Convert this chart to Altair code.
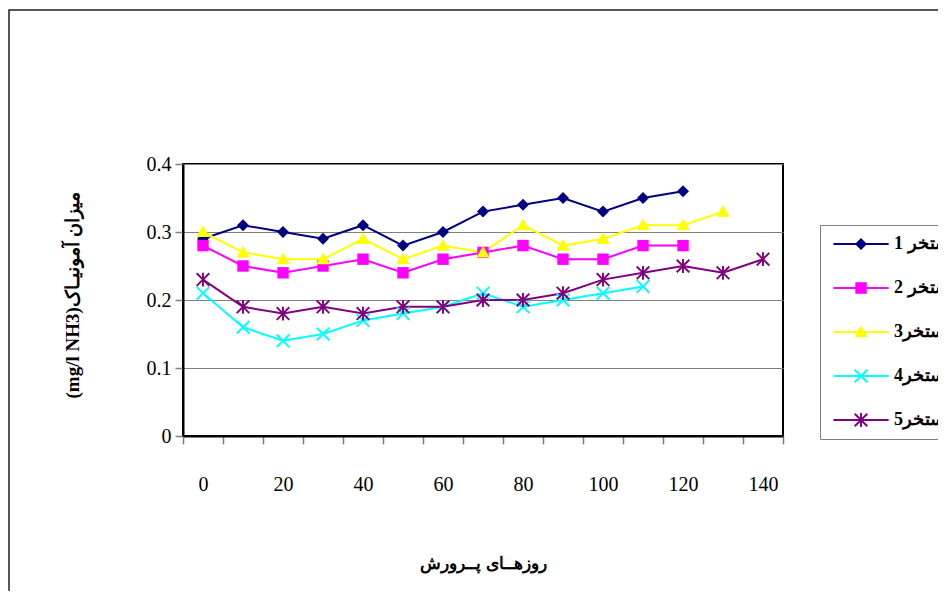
import altair as alt
import pandas as pd

# ---------------- data ----------------
days = [0, 10, 20, 30, 40, 50, 60, 70, 80, 90, 100, 110, 120, 130, 140]
series_names = ["استخر 1", "استخر 2", "استخر3", "استخر4", "استخر5"]
series_colors = ["#000080", "#FF00FF", "#FFFF00", "#00FFFF", "#800080"]

pool1 = [0.29, 0.31, 0.30, 0.29, 0.31, 0.28, 0.30, 0.33, 0.34, 0.35, 0.33, 0.35, 0.36]
pool2 = [0.28, 0.25, 0.24, 0.25, 0.26, 0.24, 0.26, 0.27, 0.28, 0.26, 0.26, 0.28, 0.28]
pool3 = [0.30, 0.27, 0.26, 0.26, 0.29, 0.26, 0.28, 0.27, 0.31, 0.28, 0.29, 0.31, 0.31, 0.33]
pool4 = [0.21, 0.16, 0.14, 0.15, 0.17, 0.18, 0.19, 0.21, 0.19, 0.20, 0.21, 0.22]
pool5 = [0.23, 0.19, 0.18, 0.19, 0.18, 0.19, 0.19, 0.20, 0.20, 0.21, 0.23, 0.24, 0.25, 0.24, 0.26]

y_ticks = [0, 0.1, 0.2, 0.3, 0.4]
x_title = "روزهــای پــرورش"
y_title = "(mg/l NH3)میزان آمونیـاک"

rows = []
for name, vals in zip(series_names, [pool1, pool2, pool3, pool4, pool5]):
    for d, v in zip(days, vals):
        rows.append({"day": d, "value": v, "series": name})
df = pd.DataFrame(rows)

# ---------------- marker shapes (filled paths) ----------------
diamond = "M0,-1L1,0L0,1L-1,0Z"
square = "M-0.95,-0.95H0.95V0.95H-0.95Z"
triangle = "M0,-1.1L1.1,0.85H-1.1Z"
xshape = ("M-0.937,-1.163L1.163,0.937L0.937,1.163L-1.163,-0.937Z"
          "M-1.163,0.937L0.937,-1.163L1.163,-0.937L-0.937,1.163Z")
asterisk = xshape + "M-0.16,-1.15H0.16V1.15H-0.16Z"
plot_shapes = [diamond, square, triangle, xshape, asterisk]
legend_line = "M-4.6,-0.16H4.6V0.16H-4.6Z"
legend_shapes = [legend_line + s for s in plot_shapes]

SERIF = "Liberation Serif, DejaVu Serif, serif"

x_enc = alt.X(
    "day:O",
    scale=alt.Scale(type="band", domain=days, paddingInner=0, paddingOuter=0),
    bandPosition=0.5,
    axis=alt.Axis(
        title=x_title,
        tickBand="extent",
        labelExpr="datum.value % 20 == 0 ? datum.label : ''",
        labelAngle=0,
        tickSize=8,
        tickColor="#808080",
        tickWidth=1.5,
        domainColor="black",
        domainWidth=2,
        labelPadding=30,
        labelFont=SERIF,
        labelFontSize=20,
        labelColor="black",
        grid=False,
        titleFont=SERIF,
        titleFontSize=17,
        titleFontWeight="bold",
        titleColor="black",
        titleY=127,
        titleBaseline="middle",
    ),
)
y_enc = alt.Y(
    "value:Q",
    scale=alt.Scale(domain=[0, 0.4]),
    axis=alt.Axis(
        title=y_title,
        values=y_ticks,
        format="~g",
        tickSize=8,
        tickColor="#808080",
        tickWidth=1.5,
        domainColor="black",
        domainWidth=2,
        labelPadding=4,
        labelFont=SERIF,
        labelFontSize=20,
        labelColor="black",
        grid=True,
        gridColor="#808080",
        gridWidth=1,
        titleFont=SERIF,
        titleFontSize=19,
        titleFontWeight="bold",
        titleColor="black",
        titleX=-111,
        titleY=131,
        titleAngle=270,
        titleAlign="center",
        titleBaseline="middle",
    ),
)

base = alt.Chart(df)

# colour scale for the plotted marks (domain from the data, no legend)
plot_color = alt.Color("series:N", scale=alt.Scale(range=series_colors), legend=None)

# outer frame (decoration)
frame = alt.Chart(pd.DataFrame({"a": [0]})).mark_rect(
    fillOpacity=0, stroke="#202020", strokeWidth=1.5
).encode(x=alt.value(-174), x2=alt.value(900), y=alt.value(-154), y2=alt.value(800))

lines = base.mark_line(strokeWidth=2).encode(x=x_enc, y=y_enc, color=plot_color)

point_layers = []
for name, shp in zip(series_names, plot_shapes):
    point_layers.append(
        base.transform_filter(alt.datum.series == name)
        .mark_point(shape=shp, filled=True, size=144, opacity=1)
        .encode(x=x_enc, y=y_enc, color=plot_color)
    )

legend_props = dict(
    title=None,
    orient="none",
    legendX=637,
    legendY=61,
    padding=10,
    symbolSize=144,
    symbolOffset=22,
    symbolStrokeWidth=0,
    symbolFillColor="white",
    symbolOpacity=1,
    labelOffset=24,
    labelFont=SERIF,
    labelFontSize=18,
    labelFontWeight="bold",
    labelColor="black",
    labelLimit=0,
    rowPadding=26,
    strokeColor="#808080",
    fillColor="white",
)

# legend source: no rows drawn, only scales with explicit domains -> legend
legend_layer = base.transform_filter("false").mark_point(filled=True, size=144, opacity=1).encode(
    x=x_enc,
    y=y_enc,
    fill=alt.Fill(
        "series:N",
        scale=alt.Scale(domain=series_names, range=series_colors),
        legend=alt.Legend(**legend_props),
    ),
    shape=alt.Shape(
        "series:N",
        scale=alt.Scale(domain=series_names, range=legend_shapes),
        legend=alt.Legend(**legend_props),
    ),
)

chart = (
    alt.layer(frame, lines, *point_layers, legend_layer)
    .properties(
        width=600,
        height=272,
        padding={"left": 175, "top": 156, "right": 155, "bottom": 155},
        autosize=alt.AutoSizeParams(type="none"),
        background="white",
    )
    .configure_view(stroke="black", strokeWidth=2)
)

chart.save("out.html", embed_options={"renderer": "svg", "actions": False})
